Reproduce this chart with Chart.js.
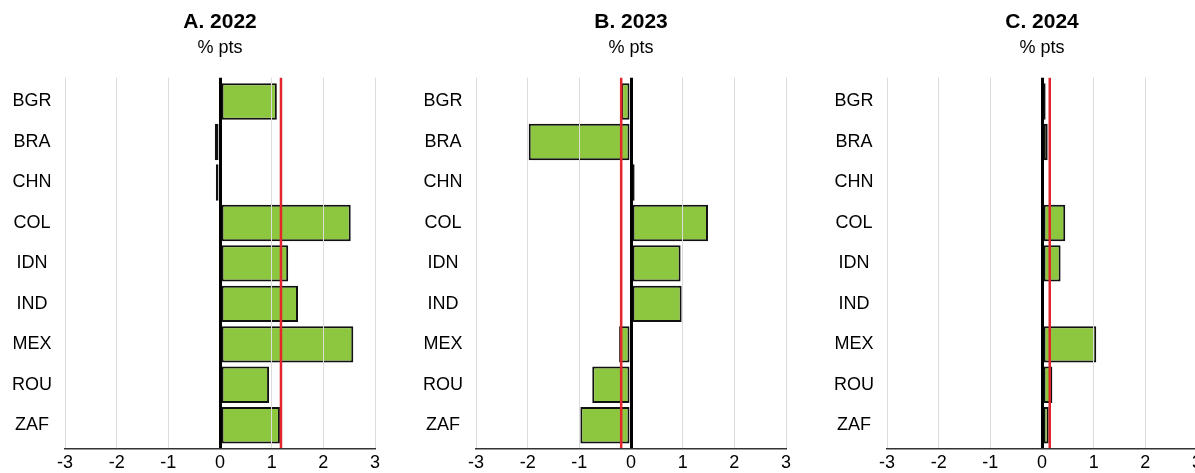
<!DOCTYPE html>
<html>
<head>
<meta charset="utf-8">
<script src="https://cdn.jsdelivr.net/npm/chart.js@4"></script>
<style>
  html, body { margin: 0; padding: 0; background: #fff; overflow: hidden; }
  #wrap { position: relative; width: 1195px; height: 473px; overflow: hidden; }
  .panel { position: absolute; top: 0; width: 400px; height: 473px; }
</style>
</head>
<body>
<div id="wrap">
  <div class="panel" style="left:0px"><canvas id="c0" width="400" height="473"></canvas></div>
  <div class="panel" style="left:411px"><canvas id="c1" width="400" height="473"></canvas></div>
  <div class="panel" style="left:822px"><canvas id="c2" width="400" height="473"></canvas></div>
</div>
<script>
var categories = ['BGR', 'BRA', 'CHN', 'COL', 'IDN', 'IND', 'MEX', 'ROU', 'ZAF'];
var values2022 = [1.10, -0.10, -0.08, 2.53, 1.32, 1.51, 2.58, 0.95, 1.16];
var values2023 = [-0.19, -1.98, 0.07, 1.49, 0.96, 0.98, -0.23, -0.75, -0.98];
var values2024 = [0.07, 0.11, 0.02, 0.45, 0.36, 0.02, 1.05, 0.20, 0.13];
var averages = [1.18, -0.19, 0.15];
var panelTitles = ['A. 2022', 'B. 2023', 'C. 2024'];
var subtitleText = '% pts';
var xMin = -3, xMax = 3;

var FONT = '"Liberation Sans", Arial, sans-serif';
var GREEN = '#8dc63f';
var RED = '#e3262d';
var CAT_PAD = 0.086; // extra room above first / below last category

// vertical red line at the average, drawn through the x scale
var avgLine = {
  id: 'avgLine',
  afterDatasetsDraw: function(chart, args, opts){
    var x = chart.scales.x.getPixelForValue(opts.value);
    var a = chart.chartArea, ctx = chart.ctx;
    ctx.save();
    ctx.strokeStyle = RED;
    ctx.lineWidth = 2.5;
    ctx.beginPath();
    ctx.moveTo(x, a.top);
    ctx.lineTo(x, a.bottom);
    ctx.stroke();
    ctx.restore();
  }
};

function makePanel(id, values, avg, title){
  return new Chart(document.getElementById(id), {
    type: 'bar',
    data: {
      labels: categories,
      datasets: [{
        data: values,
        backgroundColor: GREEN,
        borderColor: '#111',
        borderWidth: 2,
        borderSkipped: false,
        barPercentage: 0.9,
        categoryPercentage: 1.0
      }]
    },
    plugins: [avgLine],
    options: {
      indexAxis: 'y',
      responsive: false,
      animation: false,
      layout: { padding: { left: 0, right: 25, top: 0, bottom: 0 } },
      plugins: {
        legend: { display: false },
        tooltip: { enabled: false },
        avgLine: { value: avg },
        title: {
          display: true,
          text: title,
          fullSize: false,
          color: '#000',
          font: { family: FONT, size: 21, weight: 'bold' },
          padding: { top: 10, bottom: 2 }
        },
        subtitle: {
          display: true,
          text: subtitleText,
          fullSize: false,
          color: '#000',
          font: { family: FONT, size: 18 },
          padding: { top: 0, bottom: 19 }
        }
      },
      scales: {
        x: {
          min: xMin,
          max: xMax,
          ticks: {
            stepSize: 1,
            color: '#000',
            font: { family: FONT, size: 18 },
            padding: 3
          },
          grid: {
            z: 1,
            drawTicks: false,
            color: function(c){ return c.tick && c.tick.value === 0 ? '#000' : '#dcdcdc'; },
            lineWidth: function(c){ return c.tick && c.tick.value === 0 ? 3 : 1; }
          },
          border: { display: true, color: '#333', width: 1.5, z: 1 },
          afterFit: function(s){ s.height = 24; }
        },
        y: {
          ticks: {
            color: '#000',
            crossAlign: 'center',
            padding: 13,
            font: { family: FONT, size: 18 }
          },
          grid: { display: false, drawTicks: false },
          border: { display: false },
          afterFit: function(s){ s.width = 65; },
          afterBuildTicks: function(s){
            s._startValue -= CAT_PAD;
            s._valueRange += 2 * CAT_PAD;
          }
        }
      }
    }
  });
}

makePanel('c0', values2022, averages[0], panelTitles[0]);
makePanel('c1', values2023, averages[1], panelTitles[1]);
makePanel('c2', values2024, averages[2], panelTitles[2]);
</script>
</body>
</html>
